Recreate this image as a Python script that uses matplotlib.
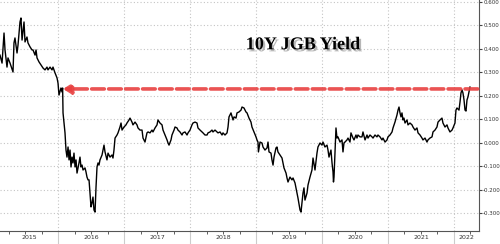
import matplotlib
matplotlib.use("Agg")
import matplotlib.pyplot as plt
import matplotlib.patheffects as pe
from matplotlib.transforms import blended_transform_factory
import numpy as np

# decimal-year dates and 10Y JGB yield (%)
dates = [
    2015.121, 2015.152, 2015.182, 2015.197, 2015.227, 2015.242, 2015.273, 2015.318, 2015.333, 2015.348,
    2015.379, 2015.394, 2015.424, 2015.439, 2015.455, 2015.485, 2015.500, 2015.530, 2015.545, 2015.576,
    2015.606, 2015.621, 2015.652, 2015.667, 2015.682, 2015.712, 2015.742, 2015.773, 2015.803, 2015.833,
    2015.848, 2015.879, 2015.909, 2015.924, 2015.955, 2015.985, 2016.000, 2016.015, 2016.045, 2016.061,
    2016.070, 2016.076, 2016.091, 2016.106, 2016.121, 2016.136, 2016.152, 2016.167, 2016.182, 2016.197,
    2016.212, 2016.227, 2016.242, 2016.258, 2016.273, 2016.288, 2016.318, 2016.333, 2016.348, 2016.364,
    2016.379, 2016.409, 2016.424, 2016.439, 2016.455, 2016.470, 2016.485, 2016.500, 2016.515, 2016.530,
    2016.545, 2016.561, 2016.576, 2016.591, 2016.606, 2016.621, 2016.636, 2016.667, 2016.682, 2016.697,
    2016.712, 2016.742, 2016.758, 2016.788, 2016.818, 2016.833, 2016.848, 2016.864, 2016.894, 2016.909,
    2016.939, 2016.955, 2016.970, 2017.000, 2017.030, 2017.045, 2017.076, 2017.091, 2017.121, 2017.136,
    2017.167, 2017.197, 2017.212, 2017.242, 2017.273, 2017.288, 2017.318, 2017.348, 2017.364, 2017.394,
    2017.424, 2017.439, 2017.470, 2017.500, 2017.515, 2017.545, 2017.576, 2017.591, 2017.621, 2017.652,
    2017.667, 2017.682, 2017.712, 2017.727, 2017.758, 2017.773, 2017.803, 2017.818, 2017.848, 2017.879,
    2017.894, 2017.924, 2017.955, 2017.970, 2018.000, 2018.030, 2018.045, 2018.076, 2018.106, 2018.121,
    2018.152, 2018.182, 2018.197, 2018.227, 2018.258, 2018.273, 2018.303, 2018.333, 2018.348, 2018.379,
    2018.409, 2018.424, 2018.455, 2018.485, 2018.500, 2018.530, 2018.561, 2018.576, 2018.591, 2018.621,
    2018.652, 2018.667, 2018.697, 2018.712, 2018.742, 2018.773, 2018.788, 2018.818, 2018.848, 2018.864,
    2018.894, 2018.924, 2018.939, 2018.970, 2019.000, 2019.015, 2019.030, 2019.037, 2019.061, 2019.091,
    2019.106, 2019.136, 2019.167, 2019.182, 2019.197, 2019.227, 2019.242, 2019.258, 2019.273, 2019.303,
    2019.318, 2019.333, 2019.364, 2019.394, 2019.409, 2019.424, 2019.455, 2019.470, 2019.485, 2019.515,
    2019.545, 2019.561, 2019.591, 2019.621, 2019.636, 2019.667, 2019.682, 2019.697, 2019.712, 2019.727,
    2019.742, 2019.773, 2019.788, 2019.818, 2019.848, 2019.864, 2019.894, 2019.924, 2019.939, 2019.970,
    2020.000, 2020.015, 2020.045, 2020.076, 2020.091, 2020.106, 2020.136, 2020.152, 2020.167, 2020.174,
    2020.182, 2020.197, 2020.212, 2020.227, 2020.242, 2020.273, 2020.303, 2020.318, 2020.333, 2020.348,
    2020.379, 2020.394, 2020.424, 2020.439, 2020.470, 2020.485, 2020.515, 2020.530, 2020.545, 2020.576,
    2020.606, 2020.621, 2020.652, 2020.682, 2020.697, 2020.727, 2020.758, 2020.773, 2020.803, 2020.833,
    2020.848, 2020.879, 2020.909, 2020.924, 2020.955, 2020.985, 2021.000, 2021.030, 2021.061, 2021.076,
    2021.106, 2021.136, 2021.152, 2021.167, 2021.182, 2021.197, 2021.212, 2021.227, 2021.242, 2021.258,
    2021.288, 2021.303, 2021.333, 2021.364, 2021.379, 2021.409, 2021.439, 2021.455, 2021.485, 2021.515,
    2021.530, 2021.561, 2021.591, 2021.606, 2021.636, 2021.667, 2021.682, 2021.712, 2021.742, 2021.758,
    2021.788, 2021.818, 2021.833, 2021.864, 2021.894, 2021.909, 2021.939, 2021.970, 2021.985, 2022.015,
    2022.030, 2022.045, 2022.076, 2022.091, 2022.106, 2022.121, 2022.136, 2022.152, 2022.167, 2022.182,
    2022.197, 2022.212, 2022.227, 2022.242,
]
yields = [
    0.374, 0.340, 0.468, 0.396, 0.323, 0.362, 0.340, 0.302, 0.426, 0.447,
    0.383, 0.417, 0.515, 0.532, 0.438, 0.515, 0.430, 0.451, 0.426, 0.409,
    0.396, 0.396, 0.374, 0.396, 0.362, 0.345, 0.332, 0.319, 0.311, 0.323,
    0.311, 0.323, 0.311, 0.323, 0.298, 0.277, 0.255, 0.204, 0.234, 0.217,
    0.234, 0.128, 0.085, 0.043, -0.030, -0.060, -0.017, -0.072, -0.030, -0.102,
    -0.060, -0.085, -0.043, -0.102, -0.072, -0.128, -0.085, -0.060, -0.102, -0.094,
    -0.115, -0.106, -0.123, -0.145, -0.157, -0.157, -0.213, -0.272, -0.255, -0.230,
    -0.285, -0.294, -0.187, -0.102, -0.085, -0.094, -0.072, -0.051, -0.030, -0.009,
    -0.038, -0.072, -0.043, -0.060, -0.051, -0.064, -0.030, 0.021, 0.034, 0.043,
    0.068, 0.085, 0.055, 0.068, 0.077, 0.085, 0.098, 0.106, 0.089, 0.077,
    0.089, 0.077, 0.064, 0.055, 0.055, 0.021, 0.004, 0.043, 0.047, 0.043,
    0.055, 0.047, 0.064, 0.077, 0.098, 0.085, 0.077, 0.055, 0.034, 0.013,
    0.000, -0.009, 0.013, 0.034, 0.055, 0.068, 0.064, 0.055, 0.047, 0.034,
    0.043, 0.047, 0.034, 0.043, 0.055, 0.077, 0.085, 0.089, 0.085, 0.064,
    0.055, 0.047, 0.043, 0.034, 0.034, 0.043, 0.047, 0.055, 0.047, 0.055,
    0.047, 0.043, 0.047, 0.034, 0.043, 0.034, 0.043, 0.068, 0.111, 0.128,
    0.098, 0.111, 0.106, 0.128, 0.132, 0.140, 0.153, 0.149, 0.132, 0.128,
    0.106, 0.089, 0.068, 0.047, 0.026, 0.013, 0.004, -0.038, 0.004, 0.000,
    -0.017, -0.030, -0.021, 0.004, -0.038, -0.043, -0.072, -0.094, -0.060, -0.021,
    -0.017, -0.038, -0.051, -0.064, -0.085, -0.106, -0.128, -0.149, -0.166, -0.145,
    -0.157, -0.149, -0.170, -0.213, -0.234, -0.285, -0.294, -0.255, -0.213, -0.191,
    -0.243, -0.213, -0.179, -0.145, -0.115, -0.064, -0.115, -0.043, -0.017, 0.000,
    -0.009, 0.004, -0.017, -0.009, -0.030, -0.060, -0.030, -0.085, -0.123, -0.166,
    -0.145, -0.043, 0.064, 0.021, 0.026, 0.004, 0.013, -0.038, 0.000, 0.004,
    0.013, 0.021, 0.004, 0.043, 0.021, 0.013, 0.034, 0.021, 0.034, 0.026,
    0.026, 0.047, 0.013, 0.034, 0.021, 0.034, 0.026, 0.021, 0.034, 0.026,
    0.034, 0.026, 0.013, 0.021, 0.004, 0.013, 0.026, 0.034, 0.047, 0.064,
    0.089, 0.119, 0.140, 0.153, 0.128, 0.111, 0.128, 0.098, 0.106, 0.085,
    0.098, 0.077, 0.085, 0.077, 0.068, 0.055, 0.064, 0.043, 0.034, 0.021,
    0.013, 0.021, 0.004, 0.013, 0.021, 0.026, 0.047, 0.055, 0.068, 0.089,
    0.098, 0.106, 0.085, 0.068, 0.077, 0.064, 0.047, 0.055, 0.064, 0.085,
    0.140, 0.149, 0.140, 0.174, 0.213, 0.226, 0.213, 0.183, 0.140, 0.136,
    0.183, 0.196, 0.217, 0.238,
]

years = [2015, 2016, 2017, 2018, 2019, 2020, 2021, 2022]
ytick_vals = [-0.3, -0.2, -0.1, 0.0, 0.1, 0.2, 0.3, 0.4, 0.5, 0.6]
last_value = 0.238
ref_level = 0.23
title = "10Y JGB Yield"

fig = plt.figure(figsize=(5.0, 2.44), dpi=100)
ax = fig.add_axes([0.0, 0.0533, 0.958, 0.9467])

ax.plot(dates, yields, color="black", lw=1.0, zorder=3)

x0, x1 = dates[0], 2022.379
ax.set_xlim(x0, x1)
ax.set_ylim(-0.3745, 0.6085)

for s in ["top", "left"]:
    ax.spines[s].set_visible(False)
for s in ["right", "bottom"]:
    ax.spines[s].set_color("#555555")
    ax.spines[s].set_linewidth(0.8)

# y axis on right
ax.yaxis.tick_right()
ax.set_yticks(ytick_vals)
ax.set_yticklabels([f"{v:.3f}" for v in ytick_vals])
ax.tick_params(axis="y", length=2, width=0.8, color="#444444", labelsize=4.0,
               labelcolor="#333333", pad=1.0)
ax.grid(axis="y", color="#c4c4c4", ls=(0, (1, 2)), lw=0.8)

# x axis: year boundaries as major ticks, quarters as minor
bounds = [y for y in years[1:]]
ax.set_xticks(bounds)
ax.set_xticklabels([])
ax.tick_params(axis="x", which="major", length=12, width=0.8, color="#cccccc")
quarters = [y + q / 4 for y in range(2015, 2023) for q in (1, 2, 3) if x0 < y + q / 4 < x1]
ax.set_xticks(quarters, minor=True)
ax.tick_params(axis="x", which="minor", length=2, width=0.6, color="#444444")
for b in bounds:
    ax.axvline(b, color="#c4c4c4", ls=(0, (1, 2)), lw=0.8, zorder=1)

trans = blended_transform_factory(ax.transData, ax.transAxes)
for y in years:
    lo, hi = max(y, x0), min(y + 1, x1)
    ax.text((lo + hi) / 2, -0.028, str(y), transform=trans, ha="center", va="center",
            fontsize=4.5, color="#333333")

# red dashed arrow
ax.annotate("", xy=(2016.075, ref_level), xytext=(x1 - 0.02, ref_level),
            arrowprops=dict(arrowstyle="-|>,head_length=0.45,head_width=0.28",
                            color="#e84040", lw=2.6, ls=(0, (3.5, 1.2)),
                            shrinkA=0, shrinkB=0, alpha=0.9),
            zorder=4)

# last value label
ax.text(1.006, last_value, f"{last_value:.3f}", transform=trans, ha="left", va="center",
        fontsize=4.0, color="white",
        bbox=dict(boxstyle="square,pad=0.25", fc="black", ec="black"), clip_on=False)

# title
ax.text(2019.71, 0.418, title, ha="center", va="center", fontsize=13, fontweight="bold",
        family="Liberation Serif", color="black",
        path_effects=[pe.withSimplePatchShadow(offset=(1.5, -1.5), shadow_rgbFace="#888888", alpha=0.6)])

fig.savefig("out.png", dpi=100)
